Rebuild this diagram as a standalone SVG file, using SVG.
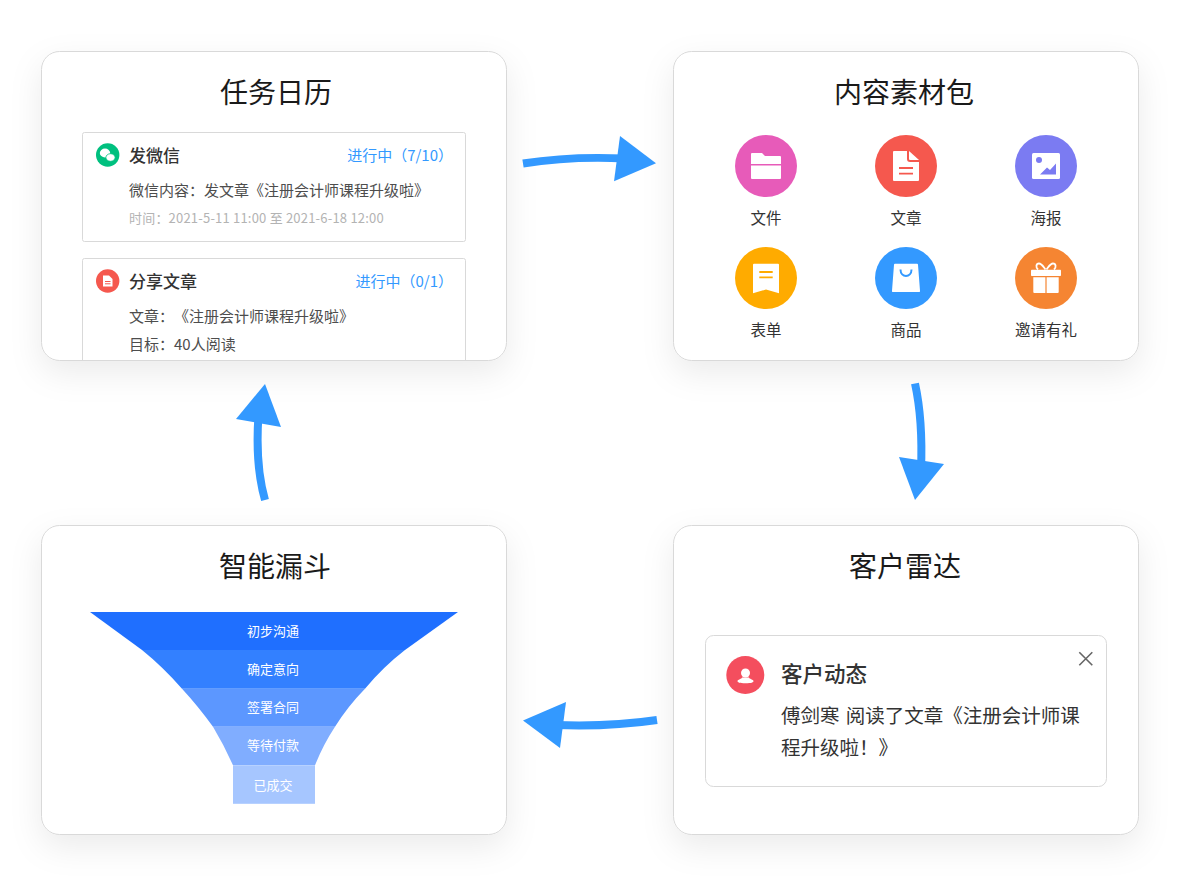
<svg xmlns="http://www.w3.org/2000/svg" width="1180" height="891" viewBox="0 0 1180 891">
<style>
text{font-family:"Noto Sans CJK SC","Noto Sans",sans-serif;fill:#333;text-spacing-trim:space-all}
.card{fill:#fff;stroke:#d9d9d9;stroke-width:1;filter:url(#sh)}
.inner{fill:#fff;stroke:#d9d9d9;stroke-width:1}
.title{font-size:28px;fill:#1a1a1a;text-anchor:middle}
.head{font-size:17px;font-weight:500;fill:#333}
.status{font-size:15px;fill:#3399ff;text-anchor:end}
.body{font-size:15px;fill:#4d4d4d}
.time{font-size:13px;letter-spacing:.2px;fill:#b3b3b3}
.lab{font-size:15.5px;fill:#333;text-anchor:middle}
.fl{font-size:13px;fill:#fff;text-anchor:middle}
.msg{font-size:19.5px;fill:#333;word-spacing:2px}
.shaft{fill:none;stroke:#3399ff;stroke-width:8}
.head-a{fill:#3399ff}
.w{fill:#fff}
</style>
<defs>
<filter id="sh" x="-20%" y="-20%" width="140%" height="150%"><feDropShadow dx="0" dy="12" stdDeviation="16" flood-color="#000" flood-opacity="0.08"/></filter>
</defs>

<g id="card-calendar">
<rect class="card" x="41.5" y="51.5" width="465" height="309" rx="18"/>
<text class="title" x="276" y="103">任务日历</text>
<rect class="inner" x="82.5" y="132.5" width="383" height="109" rx="2"/>
<circle cx="107.7" cy="155" r="11.7" fill="#00c07f"/>
<ellipse class="w" cx="105" cy="153" rx="5.2" ry="4.4"/>
<ellipse cx="110.5" cy="157.5" rx="4.6" ry="3.8" fill="#fff" stroke="#00c07f" stroke-width=".8"/>
<text class="head" x="129" y="162">发微信</text>
<text class="status" x="453" y="161">进行中（7/10）</text>
<text class="body" x="129" y="196">微信内容：发文章《注册会计师课程升级啦》</text>
<text class="time" x="129" y="223">时间：2021-5-11 11:00 至 2021-6-18 12:00</text>
<path class="inner" d="M82.5 360V260.5a2 2 0 0 1 2-2h379a2 2 0 0 1 2 2V360"/>
<circle cx="107.7" cy="281" r="11.7" fill="#f5584e"/>
<path class="w" d="M103 275.500h6l3.500 3.500v7.500h-9.500z"/>
<path d="M105 281.500h5.500M105 283.800h5.500" stroke="#f5584e" stroke-width="1"/>
<text class="head" x="129" y="288">分享文章</text>
<text class="status" x="453" y="287">进行中（0/1）</text>
<text class="body" x="129" y="322">文章：《注册会计师课程升级啦》</text>
<text class="body" x="129" y="350">目标：40人阅读</text>
</g>

<g id="card-materials">
<rect class="card" x="673.500" y="51.500" width="465" height="309" rx="18"/>
<text class="title" x="904" y="103">内容素材包</text>
<g id="icon-file"><circle cx="766" cy="166" r="31" fill="#e75bb9"/>
<path class="w" d="M751 164v-10a1 1 0 0 1 1-1h10l3 3h15a1 1 0 0 1 1 1v7z"/><path class="w" d="M751 165.500h30V178a1 1 0 0 1-1 1h-28a1 1 0 0 1-1-1z"/>
<text class="lab" x="766" y="224">文件</text></g>
<g id="icon-article"><circle cx="906" cy="166" r="31" fill="#f5584e"/>
<path class="w" d="M894 151h13v8a3 3 0 0 0 3 3h9v18a1 1 0 0 1-1 1h-24a1 1 0 0 1-1-1v-28a1 1 0 0 1 1-1z"/><path class="w" d="M909 151l10 9h-9a1 1 0 0 1-1-1z"/>
<path d="M899 168h14M899 173.700h14" stroke="#f5584e" stroke-width="1.800"/>
<text class="lab" x="906" y="224">文章</text></g>
<g id="icon-poster"><circle cx="1046" cy="166" r="31" fill="#7b7bf2"/>
<rect class="w" x="1032" y="153" width="28" height="26" rx="1.500"/>
<circle cx="1039" cy="160" r="3" fill="#7b7bf2"/><path d="M1040 174.500l7-7 3 2.500 6-6.500v11z" fill="#7b7bf2"/>
<text class="lab" x="1046" y="224">海报</text></g>
<g id="icon-form"><circle cx="766" cy="278" r="31" fill="#ffab00"/>
<path class="w" d="M754 263.700h24a1 1 0 0 1 1 1v28.600l-13-3.800-13 3.800v-28.600a1 1 0 0 1 1-1z"/>
<path d="M759.300 272h13.400M759.300 277.300h13.400" stroke="#ffab00" stroke-width="1.800"/>
<text class="lab" x="766" y="336">表单</text></g>
<g id="icon-goods"><circle cx="906" cy="278" r="31" fill="#3399ff"/>
<path class="w" d="M895 263.700h22a1 1 0 0 1 1 1l2 26a1 1 0 0 1-1 1.300h-26a1 1 0 0 1-1-1.300l2-26a1 1 0 0 1 1-1z"/>
<path d="M900.500 269.500c0 8.500 11 8.500 11 0" fill="none" stroke="#3399ff" stroke-width="2"/>
<text class="lab" x="906" y="336">商品</text></g>
<g id="icon-gift"><circle cx="1046" cy="278" r="31" fill="#f58532"/>
<path d="M1045.500 269.500c-3-4-4-6-6.500-6-3 0-3.500 4-1 6M1046.500 269.500c3-4 4-6 6.500-6 3 0 3.500 4 1 6" fill="none" stroke="#fff" stroke-width="1.800"/>
<rect class="w" x="1031" y="269.700" width="30" height="6.300" rx=".8"/>
<path class="w" d="M1033.300 277.300h12.100V293h-11.100a1 1 0 0 1-1-1zM1046.600 277.300h12.100V292a1 1 0 0 1-1 1h-11.100z"/>
<text class="lab" x="1046" y="336">邀请有礼</text></g>
</g>

<g id="card-radar">
<rect class="card" x="673.500" y="525.500" width="465" height="309" rx="18"/>
<text class="title" x="905" y="577">客户雷达</text>
<rect class="inner" x="705.500" y="635.500" width="401" height="151" rx="8"/>
<circle cx="745.300" cy="675" r="19" fill="#f44e5e"/>
<circle class="w" cx="745.500" cy="673" r="4.500"/><path class="w" d="M742 677.500h7c0 1.500 4.500 2 4.500 3.500 0 1.500-2 2.200-8 2.200s-8-.7-8-2.200c0-1.500 4.500-2 4.500-3.500z"/>
<text x="781" y="682" font-size="21.500" font-weight="500" fill="#262626">客户动态</text>
<path d="M1079.300 652.300l13 13M1092.300 652.300l-13 13" stroke="#666" stroke-width="1.600" fill="none"/>
<text class="msg" x="781" y="723">傅剑寒 阅读了文章《注册会计师课</text>
<text class="msg" x="781" y="755">程升级啦！》</text>
</g>

<g id="card-funnel">
<rect class="card" x="41.500" y="525.500" width="465" height="309" rx="18"/>
<text class="title" x="275" y="577">智能漏斗</text>
<path d="M90 612H458L405 650H142Z" fill="#1f6fff"/>
<path d="M142 650H405Q383 667 365 688.700H182Q163 667 142 650Z" fill="#3380ff"/>
<path d="M182 688.700H365Q348 706 335 726.700H213Q198 706 182 688.700Z" fill="#5c97ff"/>
<path d="M213 726.700H335Q323 745 315 765.300H233Q224 745 213 726.700Z" fill="#80adff"/>
<rect x="233" y="765.300" width="82" height="38.500" fill="#a6c6ff"/>
<text class="fl" x="273" y="636">初步沟通</text>
<text class="fl" x="273" y="674">确定意向</text>
<text class="fl" x="273" y="712">签署合同</text>
<text class="fl" x="273" y="750">等待付款</text>
<text class="fl" x="273" y="790">已成交</text>
</g>

<g id="connectors">
<path class="shaft" d="M523 163.500Q570 156 625 158.500"/><path class="head-a" d="M620 136L656 163.300 614 181.300Z"/>
<path class="shaft" d="M915 383.500Q923 420 921 470"/><path class="head-a" d="M899 457L944 464 915 500Z"/>
<path class="shaft" d="M657 720Q610 727 555 725"/><path class="head-a" d="M566 702L523 720.500 560 748Z"/>
<path class="shaft" d="M265 500Q255 465 258.500 415"/><path class="head-a" d="M265 384L236 419 281 427Z"/>
</g>
</svg>
